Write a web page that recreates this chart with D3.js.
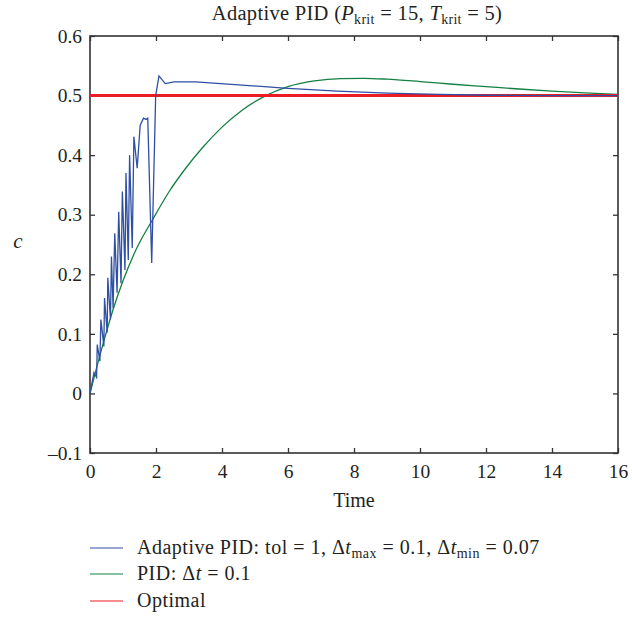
<!DOCTYPE html>
<html>
<head>
<meta charset="utf-8">
<script src="https://cdn.jsdelivr.net/npm/d3@7"></script>
<style>
  body { margin: 0; background: #fff; }
  text { font-family: "Liberation Serif", "DejaVu Serif", serif; fill: #231f20; }
</style>
</head>
<body>
<script>
//------------------------ DATA ------------------------//
// adaptive PID response (time, c)
const adaptiveTime = [0, 0.12, 0.20, 0.22, 0.30, 0.33, 0.42, 0.44, 0.52, 0.54, 0.62, 0.65, 0.70, 0.75, 0.82, 0.87,
  0.94, 0.98, 1.06, 1.09, 1.16, 1.20, 1.28, 1.33, 1.43, 1.52, 1.62, 1.70, 1.75, 1.87, 1.99, 2.09, 2.28, 2.55,
  3.2, 4.5, 6.0, 7.5, 9.0, 10.6, 12.0, 14.0, 16.0];
const adaptiveC = [0, 0.035, 0.027, 0.082, 0.054, 0.124, 0.079, 0.160, 0.102, 0.194, 0.124, 0.230, 0.143, 0.269, 0.169, 0.305,
  0.185, 0.339, 0.207, 0.370, 0.224, 0.400, 0.244, 0.431, 0.378, 0.450, 0.462, 0.460, 0.462, 0.219, 0.500, 0.533, 0.520, 0.523,
  0.523, 0.518, 0.512, 0.5075, 0.504, 0.502, 0.5005, 0.500, 0.500];

// fixed step PID response
const pidTime = [0, 0.35, 0.7, 1.0, 1.4, 1.9, 2.4, 2.9, 3.4, 4.0, 4.6, 5.3, 6.0, 6.8, 7.6, 8.3, 9.0, 10, 11, 12, 13, 14, 15, 16];
const pidC = [0, 0.074, 0.141, 0.189, 0.242, 0.292, 0.339, 0.378, 0.412, 0.447, 0.475, 0.499, 0.515, 0.5245, 0.5285, 0.529,
  0.5275, 0.5235, 0.519, 0.515, 0.511, 0.5075, 0.5045, 0.502];

const optimalTime = [0, 16];
const optimalC = [0.5, 0.5];

const xTicks = [0, 2, 4, 6, 8, 10, 12, 14, 16];
const yTicks = [-0.1, 0, 0.1, 0.2, 0.3, 0.4, 0.5, 0.6];

const seriesColors = ['#2e4fa3', '#138042', '#ec1c24'];

//------------------------ SVG ------------------------//
const width = 632, height = 617;
const plotLeft = 90, plotRight = 618, plotTop = 36, plotBottom = 453;

const svg = d3.select('body').append('svg')
  .attr('width', width)
  .attr('height', height);

const x = d3.scaleLinear().domain([0, 16]).range([plotLeft, plotRight]);
const y = d3.scaleLinear().domain([-0.1, 0.6]).range([plotBottom, plotTop]);

const fmt = d => Math.abs(d) < 1e-9 ? '0' : (d < 0 ? '\u2013' + Math.abs(d).toFixed(1) : d.toFixed(1));

// axes, ticks pointing inward on all four sides
const axisColor = '#333';
function styleAxis(g) {
  g.select('.domain').remove();
  g.selectAll('.tick line').attr('stroke', axisColor).attr('stroke-width', 1.3);
  g.selectAll('.tick text').style('font-size', '19.5px').attr('fill', '#231f20');
}

svg.append('g')
  .attr('transform', 'translate(0,' + plotBottom + ')')
  .call(d3.axisBottom(x).tickValues(xTicks).tickSize(-5).tickPadding(11).tickFormat(d3.format('d')))
  .call(styleAxis);

svg.append('g')
  .attr('transform', 'translate(0,' + plotTop + ')')
  .call(d3.axisTop(x).tickValues(xTicks).tickSize(-5).tickFormat(''))
  .call(styleAxis);

svg.append('g')
  .attr('transform', 'translate(' + plotLeft + ',0)')
  .call(d3.axisLeft(y).tickValues(yTicks).tickSize(-5).tickPadding(8).tickFormat(fmt))
  .call(styleAxis);

svg.append('g')
  .attr('transform', 'translate(' + plotRight + ',0)')
  .call(d3.axisRight(y).tickValues(yTicks).tickSize(-5).tickFormat(''))
  .call(styleAxis);

// plot box
svg.append('rect')
  .attr('x', plotLeft).attr('y', plotTop)
  .attr('width', plotRight - plotLeft).attr('height', plotBottom - plotTop)
  .attr('fill', 'none')
  .attr('stroke', axisColor)
  .attr('stroke-width', 1.6);

//------------------------ LINES ------------------------//
const plot = svg.append('g');

const toPoints = (ts, cs) => ts.map((t, i) => [t, cs[i]]);

const straight = d3.line().x(d => x(d[0])).y(d => y(d[1]));
const smooth = d3.line().x(d => x(d[0])).y(d => y(d[1])).curve(d3.curveMonotoneX);

plot.append('path')
  .datum(toPoints(pidTime, pidC))
  .attr('d', smooth)
  .attr('fill', 'none')
  .attr('stroke', seriesColors[1])
  .attr('stroke-width', 1.3);

plot.append('path')
  .datum(toPoints(optimalTime, optimalC))
  .attr('d', straight)
  .attr('fill', 'none')
  .attr('stroke', seriesColors[2])
  .attr('stroke-width', 3);

plot.append('path')
  .datum(toPoints(adaptiveTime, adaptiveC))
  .attr('d', straight)
  .attr('fill', 'none')
  .attr('stroke', seriesColors[0])
  .attr('stroke-width', 1.3);

//------------------------ TEXT ------------------------//
const title = svg.append('text')
  .attr('x', 357).attr('y', 20)
  .attr('text-anchor', 'middle')
  .style('font-size', '20.5px')
  .style('letter-spacing', '0.3px');
title.append('tspan').text('Adaptive PID (');
title.append('tspan').style('font-style', 'italic').text('P');
title.append('tspan').attr('dy', 4).style('font-size', '14px').text('krit');
title.append('tspan').attr('dy', -4).text(' = 15, ');
title.append('tspan').style('font-style', 'italic').text('T');
title.append('tspan').attr('dy', 4).style('font-size', '14px').text('krit');
title.append('tspan').attr('dy', -4).text(' = 5)');

svg.append('text')
  .attr('x', 354).attr('y', 507)
  .attr('text-anchor', 'middle')
  .style('font-size', '20px')
  .text('Time');

svg.append('text')
  .attr('x', 18).attr('y', 248)
  .attr('text-anchor', 'middle')
  .style('font-size', '21px')
  .style('font-style', 'italic')
  .text('c');

// legend
const legend = svg.append('g');
const legendY = [548, 574, 601];
legendY.forEach((ly, i) => {
  legend.append('line')
    .attr('x1', 90).attr('x2', 123)
    .attr('y1', ly).attr('y2', ly)
    .attr('stroke', seriesColors[i])
    .attr('stroke-width', 1.2);
});

function legendText(ly) {
  return legend.append('text')
    .attr('x', 137).attr('y', ly + 6)
    .style('font-size', '20px')
    .style('letter-spacing', '0.5px');
}
const l1 = legendText(legendY[0]);
l1.append('tspan').text('Adaptive PID: tol = 1, \u0394');
l1.append('tspan').style('font-style', 'italic').text('t');
l1.append('tspan').attr('dy', 4).style('font-size', '14px').text('max');
l1.append('tspan').attr('dy', -4).text(' = 0.1, \u0394');
l1.append('tspan').style('font-style', 'italic').text('t');
l1.append('tspan').attr('dy', 4).style('font-size', '14px').text('min');
l1.append('tspan').attr('dy', -4).text(' = 0.07');

const l2 = legendText(legendY[1]);
l2.append('tspan').text('PID: \u0394');
l2.append('tspan').style('font-style', 'italic').text('t');
l2.append('tspan').text(' = 0.1');

legendText(legendY[2]).text('Optimal');
</script>
</body>
</html>
